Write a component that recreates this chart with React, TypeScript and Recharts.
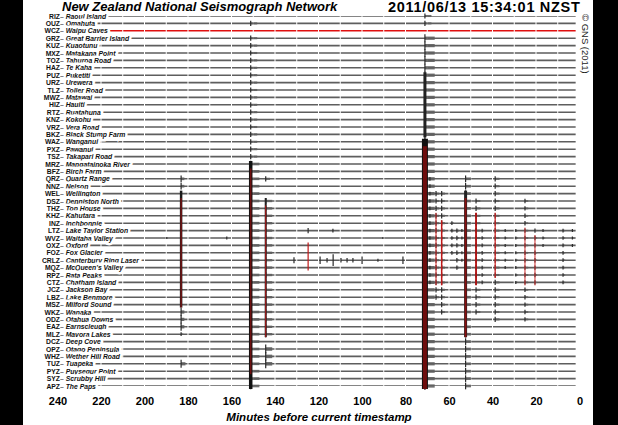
import { ComposedChart, Line, XAxis, YAxis, ReferenceLine, ReferenceArea, Label } from 'recharts';

// station code / name, north to south as listed on the drum
const stations: [string, string][] = [
  ['RIZ', 'Raoul Island'], ['OUZ', 'Omahuta'], ['WCZ', 'Waipu Caves'], ['GRZ', 'Great Barrier Island'],
  ['KUZ', 'Kuaotunu'], ['MXZ', 'Matakana Point'], ['TOZ', 'Tahuroa Road'], ['HAZ', 'Te Kaha'],
  ['PUZ', 'Puketiti'], ['URZ', 'Urewera'], ['TLZ', 'Toller Road'], ['MWZ', 'Matawai'],
  ['HIZ', 'Hauiti'], ['RTZ', 'Ruatahuna'], ['KNZ', 'Kokohu'], ['VRZ', 'Vera Road'],
  ['BKZ', 'Black Stump Farm'], ['WAZ', 'Wanganui'], ['PXZ', 'Pawanui'], ['TSZ', 'Takapari Road'],
  ['MRZ', 'Mangatainoka River'], ['BFZ', 'Birch Farm'], ['QRZ', 'Quartz Range'], ['NNZ', 'Nelson'],
  ['WEL', 'Wellington'], ['DSZ', 'Denniston North'], ['THZ', 'Top House'], ['KHZ', 'Kahutara'],
  ['INZ', 'Inchbonnie'], ['LTZ', 'Lake Taylor Station'], ['WVZ', 'Waitaha Valley'], ['OXZ', 'Oxford'],
  ['FOZ', 'Fox Glacier'], ['CRLZ', 'Canterbury Ring Laser'], ['MQZ', "McQueen's Valley"], ['RPZ', 'Rata Peaks'],
  ['CTZ', 'Chatham Island'], ['JCZ', 'Jackson Bay'], ['LBZ', 'Lake Benmore'], ['MSZ', 'Milford Sound'],
  ['WKZ', 'Wanaka'], ['ODZ', 'Otahua Downs'], ['EAZ', 'Earnscleugh'], ['MLZ', 'Mavora Lakes'],
  ['DCZ', 'Deep Cove'], ['OPZ', 'Otago Peninsula'], ['WHZ', 'Wether Hill Road'], ['TUZ', 'Tuapeka'],
  ['PYZ', 'Puysegur Point'], ['SYZ', 'Scrubby Hill'], ['APZ', 'The Paps'],
];

const minuteTicks = [240, 220, 200, 180, 160, 140, 120, 100, 80, 60, 40, 20, 0];
const traceStart = 240;
const traceEnd = 2;
const redTrace = 'WCZ';

// arrivals seen as wiggles: [minutes before now, first station, last station, half amplitude (rows), coda (min)]
const arrivals: [number, string, string, number, number][] = [
  [190, 'WVZ', 'WVZ', 0.15, 0],
  [183.4, 'QRZ', 'NNZ', 0.45, 1.5],
  [183.4, 'WKZ', 'EAZ', 0.55, 1.5],
  [183.4, 'MLZ', 'MLZ', 0.25, 1],
  [183.4, 'TUZ', 'TUZ', 0.55, 2],
  [162.4, 'WVZ', 'WVZ', 0.2, 0],
  [151.4, 'OUZ', 'TSZ', 0.35, 3],
  [151.4, 'MRZ', 'APZ', 0.45, 4],
  [144.5, 'QRZ', 'QRZ', 0.35, 2],
  [144.5, 'DSZ', 'MLZ', 0.4, 3],
  [144.5, 'OPZ', 'TUZ', 0.6, 3],
  [131.5, 'CRLZ', 'CRLZ', 0.4, 0],
  [125, 'LTZ', 'LTZ', 0.35, 0],
  [119.5, 'CRLZ', 'CRLZ', 0.5, 0],
  [116.3, 'CRLZ', 'CRLZ', 0.3, 0],
  [113.5, 'CRLZ', 'CRLZ', 0.8, 0],
  [113.6, 'LTZ', 'LTZ', 0.25, 0],
  [109.9, 'CRLZ', 'CRLZ', 0.3, 0],
  [107.1, 'CRLZ', 'CRLZ', 0.3, 0],
  [104.4, 'CRLZ', 'CRLZ', 0.3, 0],
  [100.2, 'CRLZ', 'CRLZ', 0.5, 0],
  [92.9, 'CRLZ', 'CRLZ', 0.2, 0],
  [90.6, 'WVZ', 'WVZ', 0.15, 0],
  [81.4, 'CRLZ', 'CRLZ', 0.5, 0],
  [71.3, 'RIZ', 'OUZ', 0.35, 3],
  [71.3, 'GRZ', 'APZ', 0.55, 4.5],
  [69, 'QRZ', 'CTZ', 0.25, 1],
  [66.2, 'WEL', 'LBZ', 0.35, 1.5],
  [63.6, 'WEL', 'WKZ', 0.35, 1.5],
  [58.9, 'INZ', 'FOZ', 0.25, 1],
  [56.6, 'LTZ', 'MQZ', 0.3, 1],
  [54.3, 'LTZ', 'CRLZ', 0.2, 1],
  [52.6, 'QRZ', 'APZ', 0.45, 2.5],
  [47.8, 'DSZ', 'WKZ', 0.35, 2],
  [45, 'LTZ', 'CTZ', 0.25, 1],
  [39, 'QRZ', 'ODZ', 0.35, 2],
  [34.4, 'LTZ', 'MQZ', 0.2, 1],
  [29.5, 'LTZ', 'CTZ', 0.2, 1],
  [25.3, 'DSZ', 'ODZ', 0.3, 1.5],
  [20.7, 'LTZ', 'CTZ', 0.3, 1],
  [17, 'LTZ', 'OXZ', 0.2, 1],
  [7.8, 'LTZ', 'CTZ', 0.25, 1],
  [3.5, 'LTZ', 'OXZ', 0.2, 1],
];

// clipped traces that merge into one vertical stroke: [minutes, first, last, colour, width]
const strokes: [number, string, string, string, number][] = [
  [183.4, 'WEL', 'MSZ', '#1a1a1a', 2.5],
  [183.4, 'DSZ', 'MSZ', '#a01010', 1],
  [151.4, 'MRZ', 'APZ', '#111111', 3.5],
  [151.4, 'BFZ', 'PYZ', '#6e1010', 1.6],
  [144.5, 'DSZ', 'MLZ', '#222222', 2],
  [144.5, 'THZ', 'MLZ', '#b01818', 1],
  [125, 'OXZ', 'MQZ', '#c01818', 1.2],
  [71.3, 'PUZ', 'BKZ', '#222222', 3],
  [71.3, 'WAZ', 'APZ', '#111111', 6],
  [71.3, 'PXZ', 'APZ', '#6e0d0d', 4],
  [66.2, 'KHZ', 'CTZ', '#d02020', 1],
  [63.6, 'INZ', 'CTZ', '#c01818', 1.5],
  [52.6, 'WEL', 'MLZ', '#222222', 3],
  [52.6, 'DSZ', 'MLZ', '#8a1010', 1.8],
  [47.8, 'KHZ', 'CTZ', '#b01010', 1.8],
  [39, 'KHZ', 'RPZ', '#d02020', 1.2],
  [25.3, 'LTZ', 'CTZ', '#d03030', 1],
  [20.7, 'WVZ', 'CTZ', '#d03030', 1],
];

const ROW: Record<string, number> = Object.fromEntries(stations.map(([c], i) => [c, i]));
const rowsOf = (a: string, b: string) => {
  const out: number[] = [];
  for (let r = ROW[a]; r <= ROW[b]; r++) out.push(r);
  return out;
};

// each trace as a two-point series along its row
const traces = stations.map(([code], i) => ({
  code,
  data: [{ m: traceStart, row: i }, { m: traceEnd, row: i }],
}));

const FONT = '"Liberation Sans", Arial, Helvetica, sans-serif';

function StationTick(props: any) {
  const { x, y, payload } = props;
  const [code, name] = stations[payload.value];
  return (
    <g>
      <text
        x={x + 2}
        y={y}
        dominantBaseline="central"
        fontSize={6.8}
        fontWeight="bold"
        fontStyle="italic"
        fill="#111"
        stroke="#fff"
        strokeWidth={5}
        paintOrder="stroke"
        fontFamily={FONT}
      >
        {'– ' + name}
      </text>
      <text x={x + 2} y={y} textAnchor="end" dominantBaseline="central" fontSize={6.8} fontWeight="bold" fill="#111" fontFamily={FONT}>
        {code}
      </text>
    </g>
  );
}

export default function App() {
  return (
    <div style={{ position: 'absolute', left: 0, top: 0, width: 618, height: 425, background: '#000', overflow: 'hidden' }}>
      <div style={{ position: 'absolute', left: 23, top: 0, width: 570, height: 425, background: '#fff', overflow: 'hidden', fontFamily: FONT }}>
        <div style={{ position: 'absolute', left: 39, top: 0, fontSize: 13, lineHeight: '13px', fontWeight: 'bold', fontStyle: 'italic', color: '#000', whiteSpace: 'nowrap' }}>
          New Zealand National Seismograph Network
        </div>
        <div style={{ position: 'absolute', left: 365, top: 0, fontSize: 14.5, lineHeight: '14px', letterSpacing: 0.7, fontWeight: 'bold', color: '#000', whiteSpace: 'nowrap' }}>
          2011/06/13 15:34:01 NZST
        </div>
        <div style={{ position: 'absolute', left: 556, top: 14, fontSize: 9.5, color: '#222', whiteSpace: 'nowrap', transformOrigin: 'left top', transform: 'translate(12px, 0) rotate(90deg)' }}>
          © GNS (2011)
        </div>
        <ComposedChart width={570} height={425} margin={{ top: 16, right: 13, bottom: 0, left: 34 }} style={{ position: 'absolute', left: 0, top: 0 }}>
          {traces.map((t) => (
            <Line
              key={'base-' + t.code}
              data={t.data}
              dataKey="row"
              type="linear"
              dot={false}
              activeDot={false}
              stroke={t.code === redTrace ? '#e01010' : '#5e5e5e'}
              strokeWidth={t.code === redTrace ? 1.4 : 1.6}
              strokeDasharray="20.75 1"
              isAnimationActive={false}
            />
          ))}
          {arrivals.flatMap(([m, a, b, amp, coda], k) =>
            rowsOf(a, b)
              .filter((r) => stations[r][0] !== redTrace)
              .flatMap((r) => {
                const els = [
                  <ReferenceLine
                    key={`sp-${k}-${r}`}
                    segment={[{ x: m, y: r - amp }, { x: m, y: r + amp }]}
                    stroke="#2a2a2a"
                    strokeWidth={1.2}
                    ifOverflow="visible"
                  />,
                ];
                if (coda > 0)
                  els.push(
                    <ReferenceArea
                      key={`cd-${k}-${r}`}
                      x1={m}
                      x2={m - coda}
                      y1={r - amp * 0.4}
                      y2={r + amp * 0.4}
                      fill="#707070"
                      fillOpacity={1}
                      stroke="none"
                      ifOverflow="visible"
                    />
                  );
                return els;
              })
          )}
          {strokes.map(([m, a, b, color, w], k) => (
            <ReferenceLine
              key={'st-' + k}
              segment={[{ x: m, y: ROW[a] - 0.4 }, { x: m, y: ROW[b] + 0.4 }]}
              stroke={color}
              strokeWidth={w}
              ifOverflow="visible"
            />
          ))}
          <XAxis
            type="number"
            dataKey="m"
            domain={[0, 240]}
            reversed
            ticks={minuteTicks}
            interval={0}
            axisLine={false}
            tickLine={false}
            tickSize={0}
            tickMargin={11}
            height={39}
            allowDataOverflow
            tick={{ fontSize: 11, fontWeight: 'bold', fill: '#000', fontFamily: FONT }}
          >
            <Label
              value="Minutes before current timestamp"
              position="insideBottom"
              offset={4}
              style={{ fontSize: 11.5, fontWeight: 'bold', fontStyle: 'italic', fill: '#000', fontFamily: FONT }}
            />
          </XAxis>
          <YAxis
            type="number"
            dataKey="row"
            domain={[0, stations.length - 1]}
            reversed
            ticks={stations.map((_, i) => i)}
            interval={0}
            width={1}
            axisLine={false}
            tickLine={false}
            tickSize={0}
            tickMargin={0}
            allowDataOverflow
            tick={(p: any) => <StationTick {...p} />}
          />
        </ComposedChart>
      </div>
    </div>
  );
}
